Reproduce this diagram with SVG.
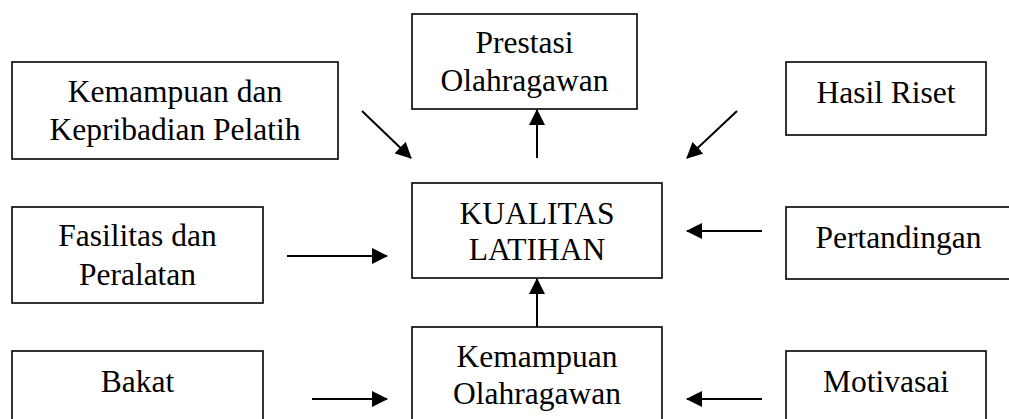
<svg xmlns="http://www.w3.org/2000/svg" width="1009" height="419" viewBox="0 0 1009 419">
<style>
.box{fill:#fff;stroke:#000;stroke-width:1.6}
.t{font-family:"Liberation Serif","Times New Roman",serif;font-size:31.5px;fill:#000;text-anchor:middle}
.c{stroke:#000;stroke-width:2;fill:none;marker-end:url(#ah)}
</style>
<defs>
<marker id="ah" markerUnits="userSpaceOnUse" markerWidth="16" markerHeight="16" viewBox="0 0 16 16" refX="15" refY="8" orient="auto">
<path d="M0,0 L16,8 L0,16 z" fill="#000"/>
</marker>
</defs>
<rect width="1009" height="419" fill="#fff"/>
<g id="pelatih"><rect class="box" x="12" y="62" width="326" height="97"/><text class="t" x="175" y="102">Kemampuan dan</text><text class="t" x="175" y="140">Kepribadian Pelatih</text></g>
<g id="prestasi"><rect class="box" x="412" y="14" width="225" height="95"/><text class="t" x="524.5" y="53">Prestasi</text><text class="t" x="524.5" y="91">Olahragawan</text></g>
<g id="riset"><rect class="box" x="786" y="62" width="200" height="73"/><text class="t" x="886" y="103">Hasil Riset</text></g>
<g id="fasilitas"><rect class="box" x="12" y="207" width="251" height="96"/><text class="t" x="137.5" y="246">Fasilitas dan</text><text class="t" x="137.5" y="285">Peralatan</text></g>
<g id="kualitas"><rect class="box" x="412" y="183" width="250" height="95"/><text class="t" x="537" y="224">KUALITAS</text><text class="t" x="537" y="260">LATIHAN</text></g>
<g id="pertandingan"><rect class="box" x="786" y="207" width="230" height="72"/><text class="t" x="898.5" y="248">Pertandingan</text></g>
<g id="bakat"><rect class="box" x="12" y="351" width="251" height="80"/><text class="t" x="137.5" y="392">Bakat</text></g>
<g id="kemampuan-olahragawan"><rect class="box" x="412" y="327" width="250" height="104"/><text class="t" x="537" y="367">Kemampuan</text><text class="t" x="537" y="404">Olahragawan</text></g>
<g id="motivasai"><rect class="box" x="786" y="351" width="200" height="80"/><text class="t" x="886" y="392">Motivasai</text></g>
<g id="connectors">
<line class="c" x1="362" y1="111" x2="411" y2="158"/>
<line class="c" x1="737" y1="111" x2="687" y2="158"/>
<line class="c" x1="537" y1="158" x2="537" y2="110"/>
<line class="c" x1="287" y1="256" x2="387" y2="256"/>
<line class="c" x1="762" y1="231" x2="687" y2="231"/>
<line class="c" x1="537" y1="327" x2="537" y2="279"/>
<line class="c" x1="312" y1="399" x2="387" y2="399"/>
<line class="c" x1="762" y1="399" x2="687" y2="399"/>
</g>
</svg>
